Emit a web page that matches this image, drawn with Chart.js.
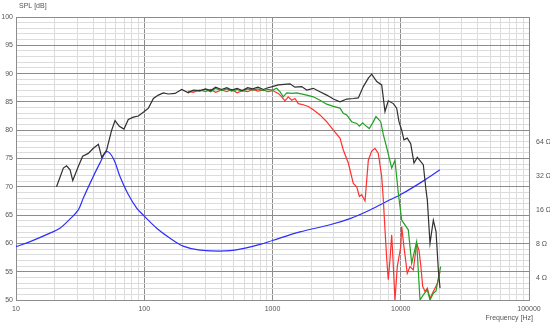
<!DOCTYPE html>
<html>
<head>
<meta charset="utf-8">
<script src="https://cdn.jsdelivr.net/npm/chart.js@4"></script>
<style>
  html, body { margin: 0; padding: 0; background: #fff; }
</style>
</head>
<body>
<canvas id="splChart" width="550" height="325"></canvas>
<script>
// SPL response (dB) and impedance (ohm) vs frequency

// Tick labels
const freqDecades = [10, 100, 1000, 10000, 100000];
const splTicks = [50, 55, 60, 65, 70, 75, 80, 85, 90, 95, 100];
const impTicks = [4, 8, 16, 32, 64];

// Black curve (on-axis SPL)
const blackFreq = [20.7, 23.4, 24.8, 26.4, 27.7, 30.6, 33.1, 36.6, 40.1, 43.9, 46.6, 50.9, 55.7, 59.2, 63.9, 69.5,
    75.1, 82.2, 89.9, 100, 107.8, 117.8, 128.9, 140.9, 154, 173.8, 195.9, 220.7, 241.5, 272, 300, 330, 360, 400,
    440, 480, 530, 580, 640, 700, 770, 850, 920, 1000, 1109, 1369, 1496, 1689, 1848, 2080, 2345, 2646, 2981, 3358,
    3790, 4266, 4667, 5107, 5588, 5937, 6500, 7103, 7535, 7993, 8748, 9294, 9689, 10170, 10590, 11240, 11960,
    12680, 13460, 14990, 15740, 16110, 16910, 17950, 18840, 19640, 20240];
const blackSpl = [70, 73.3, 73.7, 73, 71.1, 73.6, 75.4, 75.9, 76.8, 77.5, 75.2, 76.5, 80.0, 81.7, 80.7, 80.2,
    81.9, 82.3, 82.5, 83.3, 83.9, 85.6, 86.2, 86.6, 86.4, 86.5, 87.2, 86.6, 87.1, 87.0, 87.3, 87.0, 87.6, 87.2,
    87.5, 87.1, 87.4, 87.0, 87.5, 87.3, 87.6, 87.2, 87.5, 87.7, 88.0, 88.2, 87.6, 87.7, 87.1, 87.4, 86.8, 86.2, 85.5, 85.0,
    85.5, 85.6, 85.7, 87.7, 89.2, 89.9, 88.6, 88.0, 83.3, 85.2, 84.7, 83.9, 81.5, 80.0, 78.3, 78.6, 77.6,
    74.2, 75.2, 73.9, 69.4, 67.7, 60.0, 64.1, 62.1, 55.3, 52.1];

// Green curve
const greenFreq = [220, 240, 270, 300, 330, 360, 400, 440, 480, 530, 580, 640, 700, 770, 850, 920, 1000, 1079,
    1143, 1213, 1290, 1412, 1545, 1848, 2080, 2345, 2646, 2981, 3358, 3565, 3790, 4142, 4536, 4758, 5050, 5265,
    5683, 6043, 6407, 6978, 7314, 7857, 8497, 9013, 9570, 10170, 11450, 12170, 13300, 14130, 14990, 16110,
    16910, 17950, 18840, 19640, 20470];
const greenSpl = [86.8, 87.0, 86.9, 87.2, 86.8, 87.4, 87.0, 87.3, 86.9, 87.2, 86.9, 87.3, 87.1, 87.3, 87.0, 87.2, 87.1, 87.4,
    86.8, 85.9, 86.6, 86.5, 86.6, 86.2, 85.9, 85.3, 84.6, 84.2, 83.9, 83.0, 82.7, 81.5, 81.2, 80.7, 81.3, 80.9,
    80.3, 81.3, 82.4, 81.5, 79.2, 76.5, 73.3, 74.7, 68.9, 64.1, 62.4, 56.5, 60.3, 50, 50.9, 51.8,
    50, 51.2, 51.6, 53.8, 55.9];

// Red curve
const redFreq = [220, 240, 270, 300, 330, 360, 400, 440, 480, 530, 580, 640, 700, 770, 850, 920, 1000, 1109,
    1180, 1251, 1327, 1412, 1496, 1589, 1738, 1901, 2080, 2345, 2646, 2981, 3358, 3565, 3900, 4266, 4536, 4758,
    4955, 5265, 5588, 5937, 6295, 6683, 7103, 7314, 7535, 7781, 7993, 8241, 8497, 8650, 9013, 9397, 10000,
    10170, 10590, 11240, 11800, 12530, 13300, 13870, 14310, 14830, 15460, 16110, 16910, 17950, 19280, 20240];
const redSpl = [86.9, 86.7, 87.1, 86.8, 87.2, 86.7, 87.1, 86.8, 87.2, 86.6, 87.0, 86.8, 87.2, 86.9, 87.1, 86.8, 87.0, 86.5,
    85.9, 85.2, 85.9, 85.3, 85.6, 84.7, 84.5, 84.2, 83.6, 82.7, 81.5, 80.0, 78.6, 76.5, 74.2, 70.6, 70.0, 68.3,
    68.6, 67.5, 74.7, 76.3, 76.8, 75.9, 71.8, 67.7, 62.4, 57.1, 53.6, 57.1, 61.5, 58.3, 50, 55.9, 59.4,
    63.0, 59.4, 54.7, 55.9, 55.3, 60.0, 58.8, 56.2, 52.4, 51.5, 52.1, 50.3, 51.5, 52.9, 55.0];

// Blue curve (impedance, ohm)
const impFreq = [10, 12.9, 18.4, 22.0, 26.4, 30.6, 33.5, 38.9, 45.2, 50.9, 57.4, 64.7, 75.1, 87.3, 100, 125,
    159, 201, 272, 467, 800, 1000, 1637, 2806, 4018, 5754, 8241, 10000, 15460, 20200];
const impOhm = [7.53, 8.36, 9.94, 11.0, 13.3, 16.0, 20.4, 29.6, 41.9, 52.8, 45.9, 31.7, 21.9, 16.6, 14.1, 11.0,
    8.96, 7.62, 7.02, 6.94, 7.89, 8.56, 10.2, 11.8, 13.4, 16.0, 19.7, 21.9, 29.6, 36.4];

const toPoints = (xs, ys) => xs.map((x, i) => ({ x: x, y: ys[i] }));

const isDecade = v => {
    const l = Math.log10(v);
    return Math.abs(l - Math.round(l)) < 1e-9;
};

// every 1..9 x 10^k step between the decades
const freqGrid = [];
freqDecades.forEach((d, i) => {
    if (i === freqDecades.length - 1) { freqGrid.push(d); return; }
    for (let m = 1; m < 10; m++) freqGrid.push(d * m);
});

const splGrid = [];
for (let v = splTicks[0]; v <= splTicks[splTicks.length - 1]; v++) splGrid.push(v);

const FONT = { family: '"Liberation Sans", Arial, sans-serif', size: 7 };
const MAJOR = '#8c8c8c';
const MINOR = '#dcdcdc';

const axisText = {
    id: 'axisText',
    afterDraw(chart) {
        const c = chart.ctx;
        c.save();
        c.font = '7px "Liberation Sans", Arial, sans-serif';
        c.fillStyle = '#555';
        c.textBaseline = 'middle';
        c.textAlign = 'left';
        c.fillText('SPL [dB]', 19, 6);
        c.textAlign = 'right';
        c.fillText('Frequency [Hz]', 533, 318);
        c.restore();
    }
};

new Chart(document.getElementById('splChart'), {
    type: 'line',
    data: {
        datasets: [
            { label: 'Black', data: toPoints(blackFreq, blackSpl), borderColor: '#303030', yAxisID: 'y' },
            { label: 'Green', data: toPoints(greenFreq, greenSpl), borderColor: '#22a022', yAxisID: 'y' },
            { label: 'Red', data: toPoints(redFreq, redSpl), borderColor: '#ff3030', yAxisID: 'y' },
            { label: 'Impedance', data: toPoints(impFreq, impOhm), borderColor: '#2e2eff', yAxisID: 'yR',
              tension: 0.35 }
        ]
    },
    options: {
        responsive: false,
        animation: false,
        layout: { padding: { top: 17, left: 0, right: 0, bottom: 0 } },
        elements: {
            point: { radius: 0 },
            line: { borderWidth: 1.2, tension: 0 }
        },
        plugins: {
            legend: { display: false },
            tooltip: { enabled: false }
        },
        scales: {
            x: {
                type: 'logarithmic',
                min: 10,
                max: 100000,
                afterBuildTicks: axis => { axis.ticks = freqGrid.map(v => ({ value: v })); },
                afterFit: axis => { axis.height = 25; },
                grid: {
                    color: ctx => (ctx.tick && isDecade(ctx.tick.value)) ? MAJOR : MINOR,
                    drawTicks: false
                },
                border: { display: true, color: MAJOR },
                ticks: {
                    autoSkip: false,
                    maxRotation: 0,
                    padding: 5,
                    color: '#555',
                    font: FONT,
                    callback: v => isDecade(v) ? String(v) : ''
                }
            },
            y: {
                type: 'linear',
                position: 'left',
                min: 50,
                max: 100,
                afterBuildTicks: axis => { axis.ticks = splGrid.map(v => ({ value: v })); },
                afterFit: axis => { axis.width = 16; },
                grid: {
                    color: ctx => (ctx.tick && ctx.tick.value % 5 === 0) ? MAJOR : MINOR,
                    drawTicks: false
                },
                border: { display: true, color: MAJOR },
                ticks: {
                    autoSkip: false,
                    padding: 3,
                    color: '#555',
                    font: FONT,
                    callback: v => splTicks.includes(v) ? String(v) : ''
                }
            },
            yR: {
                type: 'logarithmic',
                position: 'right',
                min: 2.53,
                max: 831,
                afterBuildTicks: axis => { axis.ticks = impTicks.map(v => ({ value: v })); },
                afterFit: axis => { axis.width = 21; },
                grid: { display: false, drawTicks: false },
                border: { display: false },
                ticks: {
                    autoSkip: false,
                    padding: 7,
                    color: '#555',
                    font: FONT,
                    callback: v => v + ' Ω'
                }
            }
        }
    },
    plugins: [axisText]
});
</script>
</body>
</html>
